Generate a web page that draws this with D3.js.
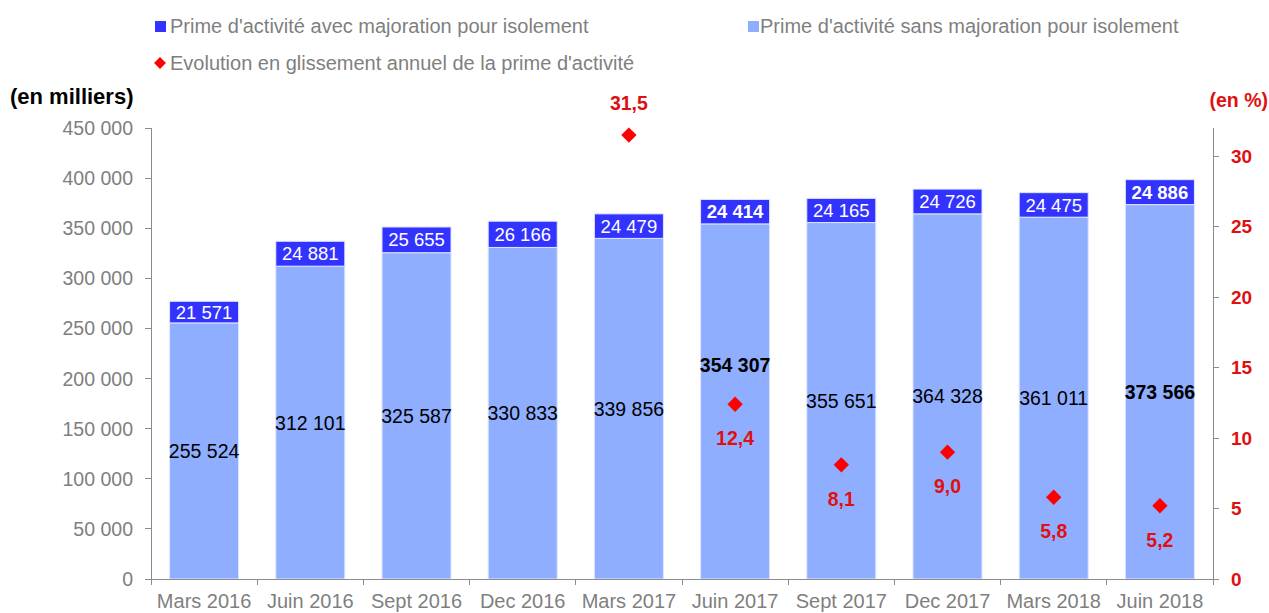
<!DOCTYPE html>
<html><head><meta charset="utf-8">
<script src="https://cdn.jsdelivr.net/npm/d3@7/dist/d3.min.js"></script>
<style>body{margin:0;background:#fff}svg{display:block;font-family:"Liberation Sans",Arial,sans-serif}</style>
</head><body><svg id="c" width="1269" height="613"></svg>
<script>
const categories = ["Mars 2016","Juin 2016","Sept 2016","Dec 2016","Mars 2017","Juin 2017","Sept 2017","Dec 2017","Mars 2018","Juin 2018"];
const sansMajoration = [255524,312101,325587,330833,339856,354307,355651,364328,361011,373566];
const avecMajoration = [21571,24881,25655,26166,24479,24414,24165,24726,24475,24886];
const evolution = [null,null,null,null,31.5,12.4,8.1,9.0,5.8,5.2];
const boldCats = ["Juin 2017","Juin 2018"];
const leftTicks = [0,50000,100000,150000,200000,250000,300000,350000,400000,450000];
const rightTicks = [0,5,10,15,20,25,30];
const legendLabels = ["Prime d'activité avec majoration pour isolement","Prime d'activité sans majoration pour isolement","Evolution en glissement annuel de la prime d'activité"];

const svg = d3.select("#c");
const L = 151, R = 1213, B = 579, T = 128;
const x = d3.scaleBand().domain(categories).range([L,R]).paddingInner(0.35).paddingOuter(0.175);
const y = d3.scaleLinear().domain([0,450000]).range([B,T]);
const y2 = d3.scaleLinear().domain([0,32]).range([B,T]);
const fmt = v => d3.format(",")(v).replace(/,/g," ");
const fr = v => d3.format(".1f")(v).replace(".",",");
const cLight = "#8FAEFF", cDark = "#3333FF", cRed = "#FF0000", cRedT = "#E01010", grey = "#7f7f7f";

// bars
const g = svg.append("g");
categories.forEach((c,i)=>{
  const x0 = x(c), w = x.bandwidth();
  const s = sansMajoration[i], a = avecMajoration[i];
  const bold = boldCats.includes(c);
  g.append("rect").attr("x",x0).attr("width",w).attr("y",y(s)).attr("height",y(0)-y(s))
    .attr("fill",cLight).attr("stroke","#dfe7ff").attr("stroke-width",1);
  g.append("rect").attr("x",x0).attr("width",w).attr("y",y(s+a)).attr("height",y(s)-y(s+a))
    .attr("fill",cDark).attr("stroke","#dfe7ff").attr("stroke-width",1);
  g.append("text").attr("x",x0+w/2).attr("y",(y(s)+y(s+a))/2).attr("dy","0.36em")
    .attr("text-anchor","middle").attr("fill","#fff").attr("font-size",18.5)
    .attr("font-weight",bold?"bold":"normal").text(fmt(a));
  let ly = (y(0)+y(s))/2;
  if (c==="Juin 2017") ly -= 36;
  g.append("text").attr("x",x0+w/2).attr("y",ly).attr("dy","0.36em")
    .attr("text-anchor","middle").attr("fill","#000").attr("font-size",19.5)
    .attr("font-weight",bold?"bold":"normal").text(fmt(s));
});

// axes
const ax = svg.append("g").attr("stroke","#8c8c8c").attr("stroke-width",1).attr("shape-rendering","crispEdges");
ax.append("line").attr("x1",L).attr("x2",L).attr("y1",T).attr("y2",B);
ax.append("line").attr("x1",R).attr("x2",R).attr("y1",T).attr("y2",B+6);
ax.append("line").attr("x1",L).attr("x2",R).attr("y1",B).attr("y2",B);
leftTicks.forEach(t=>{
  ax.append("line").attr("x1",L-6).attr("x2",L).attr("y1",y(t)).attr("y2",y(t));
  svg.append("text").attr("x",133).attr("y",y(t)).attr("dy","0.36em").attr("text-anchor","end")
    .attr("fill",grey).attr("font-size",19.5).text(fmt(t));
});
rightTicks.forEach(t=>{
  ax.append("line").attr("x1",R).attr("x2",R+6).attr("y1",y2(t)).attr("y2",y2(t));
  svg.append("text").attr("x",1231).attr("y",y2(t)).attr("dy","0.36em").attr("text-anchor","start")
    .attr("fill",cRedT).attr("font-size",19).attr("font-weight","bold").text(t);
});
const step = x.step();
categories.forEach((c,i)=>{
  const bx = L + i*step;
  if (i>0) ax.append("line").attr("x1",bx).attr("x2",bx).attr("y1",B).attr("y2",B+6);
  svg.append("text").attr("x",x(c)+x.bandwidth()/2).attr("y",601).attr("dy","0.36em")
    .attr("text-anchor","middle").attr("fill",grey).attr("font-size",20).text(c);
});
ax.append("line").attr("x1",L).attr("x2",L).attr("y1",B).attr("y2",B+6);

// diamonds
const diamond = d3.symbol().type(d3.symbolDiamond2).size(150);
categories.forEach((c,i)=>{
  const v = evolution[i];
  if (v==null) return;
  const cx = x(c)+x.bandwidth()/2, cy = y2(v);
  svg.append("path").attr("d",diamond).attr("transform",`translate(${cx},${cy})`).attr("fill",cRed);
  const above = v>30;
  svg.append("text").attr("x",cx).attr("y",above?cy-32:cy+34).attr("dy","0.36em")
    .attr("text-anchor","middle").attr("fill",cRedT).attr("font-size",19.5).attr("font-weight","bold").text(fr(v));
});

// axis titles
svg.append("text").attr("x",10).attr("y",96).attr("dy","0.36em").attr("fill","#000")
  .attr("font-size",22).attr("font-weight","bold").text("(en milliers)");
svg.append("text").attr("x",1268).attr("y",100).attr("dy","0.36em").attr("text-anchor","end").attr("fill",cRedT)
  .attr("font-size",19.5).attr("font-weight","bold").text("(en %)");

// legend
const lg = svg.append("g").attr("font-size",20).attr("fill",grey);
lg.append("rect").attr("x",155).attr("y",21).attr("width",11).attr("height",11).attr("fill",cDark);
lg.append("text").attr("x",170).attr("y",26).attr("dy","0.36em").text(legendLabels[0]);
lg.append("rect").attr("x",748).attr("y",21).attr("width",11).attr("height",11).attr("fill",cLight);
lg.append("text").attr("x",760).attr("y",26).attr("dy","0.36em").text(legendLabels[1]);
lg.append("path").attr("d",d3.symbol().type(d3.symbolDiamond2).size(90)).attr("transform","translate(160,63)").attr("fill",cRed);
lg.append("text").attr("x",170).attr("y",63).attr("dy","0.36em").text(legendLabels[2]);
</script></body></html>
